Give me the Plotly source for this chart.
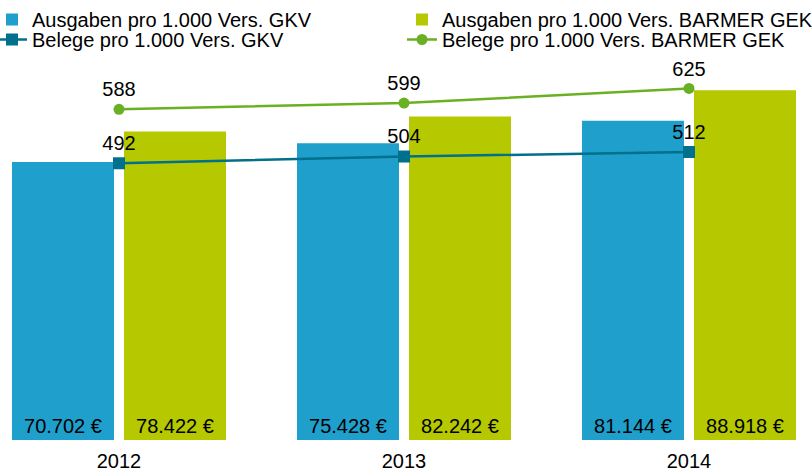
import plotly.graph_objects as go

years = ["2012", "2013", "2014"]
ausgaben_gkv = [70702, 75428, 81144]
ausgaben_barmer = [78422, 82242, 88918]
belege_gkv = [492, 504, 512]
belege_barmer = [588, 599, 625]

def eur(v):
    return f"{v:,}".replace(",", ".") + " €"

FONT = "Liberation Sans, Arial, sans-serif"
FS = 20
BLUE = "#1f9fcc"
YG = "#b5c800"
TEAL = "#00708c"
GREEN = "#6ab023"

fig = go.Figure()
fig.add_trace(go.Bar(
    x=years, y=ausgaben_gkv, name="Ausgaben pro 1.000 Vers. GKV",
    marker=dict(color=BLUE, line=dict(width=0)),
    text=[eur(v) for v in ausgaben_gkv], textposition="inside",
    insidetextanchor="start", textfont=dict(color="black", size=FS, family=FONT),
    yaxis="y", legend="legend",
))
fig.add_trace(go.Bar(
    x=years, y=ausgaben_barmer, name="Ausgaben pro 1.000 Vers. BARMER GEK",
    marker=dict(color=YG, line=dict(width=0)),
    text=[eur(v) for v in ausgaben_barmer], textposition="inside",
    insidetextanchor="start", textfont=dict(color="black", size=FS, family=FONT),
    yaxis="y", legend="legend2",
))
fig.add_trace(go.Scatter(
    x=years, y=belege_gkv, name="Belege pro 1.000 Vers. GKV",
    mode="lines+markers+text", line=dict(color=TEAL, width=2.5),
    marker=dict(symbol="square", size=12, color=TEAL),
    text=[str(v) for v in belege_gkv], textposition="top center",
    textfont=dict(color="black", size=FS, family=FONT),
    yaxis="y2", legend="legend3",
))
fig.add_trace(go.Scatter(
    x=years, y=belege_barmer, name="Belege pro 1.000 Vers. BARMER GEK",
    mode="lines+markers+text", line=dict(color=GREEN, width=2.5),
    marker=dict(symbol="circle", size=11, color=GREEN),
    text=[str(v) for v in belege_barmer], textposition="top center",
    textfont=dict(color="black", size=FS, family=FONT),
    yaxis="y2", legend="legend4",
))

leg_common = dict(orientation="v", yref="container", yanchor="top",
                  xanchor="left", font=dict(size=FS, family=FONT),
                  tracegroupgap=0, itemclick=False, bgcolor="rgba(0,0,0,0)")
row1 = 1 + 3 / 472
row2 = 1 - 20 / 472
col1 = -8 / 812
col2 = 402 / 812

fig.update_layout(
    width=812, height=472,
    margin=dict(l=0, r=0, t=60, b=32, autoexpand=False),
    paper_bgcolor="white", plot_bgcolor="white",
    font=dict(family=FONT, size=FS, color="black"),
    barmode="group", bargap=0.214, bargroupgap=0.0893,
    showlegend=True,
    legend=dict(x=col1, y=row1, **leg_common),
    legend2=dict(x=col2, y=row1, **leg_common),
    legend3=dict(x=col1, y=row2, **leg_common),
    legend4=dict(x=col2, y=row2, **leg_common),
    xaxis=dict(type="category", range=[-0.4175, 2.4316], showgrid=False,
               showline=False, zeroline=False, ticks="", tickfont=dict(size=FS),
               ticklabelstandoff=7),
    yaxis=dict(range=[0, 96618], visible=False, showgrid=False, zeroline=False),
    yaxis2=dict(range=[0, 675.6], overlaying="y", visible=False, showgrid=False,
                zeroline=False),
)
fig.write_html("out.html", config={"displayModeBar": False},
               post_script="document.body.style.margin='0';document.body.style.overflow='hidden';")
